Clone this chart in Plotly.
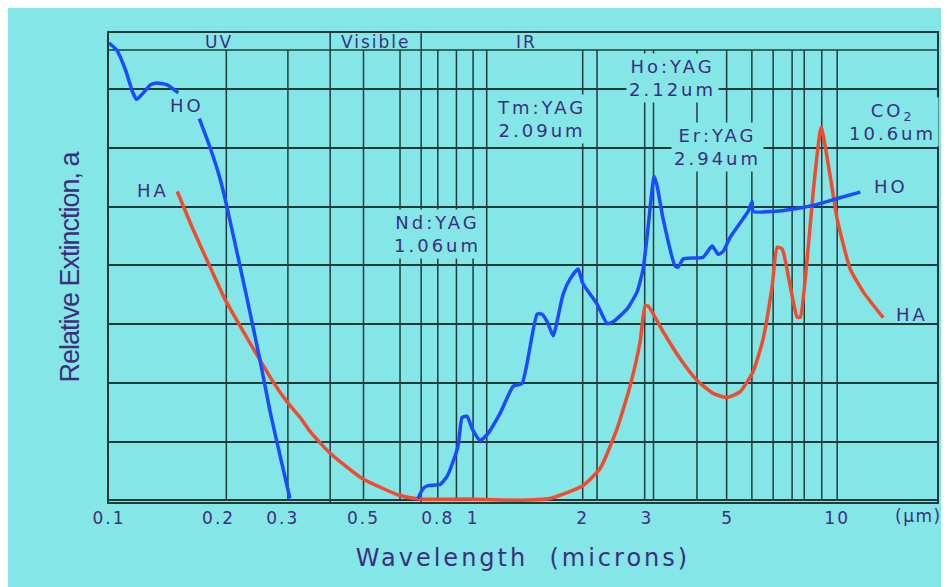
import math
import plotly.graph_objects as go

# ---------------- data ----------------
# HO curve (blue), three drawn pieces
HO_UV_WL = [0.100, 0.105, 0.111, 0.116, 0.119, 0.123, 0.130, 0.135, 0.144, 0.155]
HO_UV_A = [7.79, 7.67, 7.33, 6.96, 6.83, 6.91, 7.08, 7.11, 7.08, 6.94]

HO_UV2_WL = [0.177, 0.189, 0.202, 0.211, 0.229, 0.247, 0.260, 0.277, 0.295, 0.314]
HO_UV2_A = [6.50, 6.03, 5.47, 4.99, 3.99, 3.04, 2.38, 1.51, 0.76, 0.03]

HO_IR_WL = [0.706, 0.729, 0.752, 0.812, 0.849, 0.881, 0.910, 0.933, 0.963, 0.994,
            1.045, 1.093, 1.186, 1.288, 1.363, 1.499, 1.547, 1.607, 1.659, 1.767,
            1.847, 1.943, 1.993, 2.031, 2.191, 2.334, 2.424, 2.649, 2.821, 2.931,
            3.006, 3.144, 3.203, 3.327, 3.589, 3.658, 3.775, 4.283, 4.535, 4.711,
            4.862, 5.082, 5.693, 5.839, 5.876, 6.673, 7.765, 8.812, 10.0, 11.57]
HO_IR_A = [0.03, 0.20, 0.25, 0.27, 0.41, 0.66, 0.93, 1.41, 1.43, 1.22,
           1.02, 1.12, 1.48, 1.94, 1.99, 3.17, 3.17, 3.01, 2.80, 3.51,
           3.77, 3.94, 3.72, 3.63, 3.34, 3.01, 3.04, 3.26, 3.55, 3.94,
           4.50, 5.52, 5.35, 4.79, 3.99, 3.97, 4.11, 4.14, 4.33, 4.19,
           4.24, 4.48, 4.92, 5.09, 4.92, 4.92, 4.97, 5.04, 5.14, 5.25]

# HA curve (red)
HA_WL = [0.154, 0.170, 0.189, 0.208, 0.229, 0.257, 0.282, 0.308, 0.335, 0.357,
         0.405, 0.496, 0.630, 0.715, 0.963, 1.321, 1.627, 2.005, 2.233, 2.486,
         2.700, 2.876, 2.968, 3.025, 3.327, 3.705, 4.124, 4.564, 4.986, 5.413,
         5.876, 6.262, 6.630, 6.843, 7.063, 7.429, 7.765, 7.915, 8.272, 8.592,
         9.036, 9.568, 10.0, 10.86, 11.79, 13.38]
HA_A = [5.26, 4.62, 3.99, 3.43, 2.97, 2.44, 2.02, 1.68, 1.41, 1.17,
        0.80, 0.37, 0.08, 0.02, 0.02, 0.00, 0.03, 0.25, 0.54, 1.22,
        1.95, 2.70, 3.31, 3.31, 2.87, 2.41, 2.04, 1.82, 1.75, 1.85,
        2.19, 2.75, 3.65, 4.31, 4.28, 3.65, 3.12, 3.12, 4.11, 5.25,
        6.35, 5.52, 4.79, 3.94, 3.55, 3.11]

# grid / axis description
GRID_WL = [0.21, 0.31, 0.50, 0.63, 0.80, 0.90, 1.0, 1.09, 2.0, 2.19,
           2.96, 3.13, 4.12, 4.97, 5.83, 6.67, 7.52, 8.12, 9.07, 10.0]
BAND_EDGES = [0.405, 0.72]
BAND_NAMES = ['UV', 'Visible', 'IR']
BAND_LABEL_WL = [0.2, 0.54, 1.4]
X_MIN, X_MAX = 0.1, 18.8
Y_MIN, Y_GRID_TOP, Y_TOP = -0.03, 7.67, 7.96
TICK_VALS = [0.1, 0.2, 0.3, 0.5, 0.8, 1, 2, 3, 5, 10]
TICK_TEXT = ['0.1', '0.2', '0.3', '0.5', '0.8', '1', '2', '3', '5', '10']

# laser annotations
LASER_NAMES = ['Nd:YAG', 'Tm:YAG', 'Ho:YAG', 'Er:YAG', 'CO<sub>2</sub>']
LASER_LINES = ['1.06um', '2.09um', '2.12um', '2.94um', '10.6um']
LASER_LABEL_WL = [0.796, 1.537, 3.52, 4.68, 14.16]
LASER_LABEL_A = [4.53, 6.49, 7.20, 6.01, 6.45]

# curve name labels
CURVE_LABELS = ['HO', 'HA', 'HO', 'HA']
CURVE_LABEL_WL = [0.164, 0.132, 14.07, 16.07]
CURVE_LABEL_A = [6.72, 5.28, 5.35, 3.16]

# ---------------- style ----------------
BG = '#84e6e6'
GRID = '#1e3c3c'
TXT = '#3d2f7d'
BLUE = '#1c4bff'
RED = '#f04b2e'
FONT = 'DejaVu Sans, Verdana, sans-serif'


def ls(t, px):
    return f'<span style="letter-spacing:{px}px">{t}</span>'


fig = go.Figure()

# vertical grid lines (below the top band) + band boundaries + band line
gx, gy = [], []
for w in GRID_WL:
    gx += [w, w, None]
    gy += [0, Y_GRID_TOP, None]
for w in BAND_EDGES:
    gx += [w, w, None]
    gy += [Y_MIN, Y_TOP, None]
gx += [X_MIN, X_MAX]
gy += [Y_GRID_TOP, Y_GRID_TOP]
fig.add_trace(go.Scatter(x=gx, y=gy, mode='lines', line=dict(color=GRID, width=1.5),
                         hoverinfo='skip', showlegend=False))

LINE_KW = dict(shape='spline', smoothing=0.5, width=3.5)
fig.add_trace(go.Scatter(x=HA_WL, y=HA_A, mode='lines', name='HA',
                         line=dict(color=RED, **LINE_KW), showlegend=False))
for wl, a in [(HO_UV_WL, HO_UV_A), (HO_UV2_WL, HO_UV2_A), (HO_IR_WL, HO_IR_A)]:
    fig.add_trace(go.Scatter(x=wl, y=a, mode='lines', name='HO',
                             line=dict(color=BLUE, **LINE_KW), showlegend=False))

ann = []
for name, w in zip(BAND_NAMES, BAND_LABEL_WL):
    ann.append(dict(x=math.log10(w), y=(Y_GRID_TOP + Y_TOP) / 2, xref='x', yref='y',
                    text=ls(name, 2), showarrow=False,
                    font=dict(family=FONT, size=17, color=TXT)))
for n, l, w, a in zip(LASER_NAMES, LASER_LINES, LASER_LABEL_WL, LASER_LABEL_A):
    ann.append(dict(x=math.log10(w), y=a, xref='x', yref='y',
                    text=ls(n, 3) + '<br>' + ls(l, 3), showarrow=False,
                    bgcolor=BG, borderpad=2,
                    font=dict(family=FONT, size=18, color=TXT)))
for n, w, a in zip(CURVE_LABELS, CURVE_LABEL_WL, CURVE_LABEL_A):
    ann.append(dict(x=math.log10(w), y=a, xref='x', yref='y', text=ls(n, 3),
                    showarrow=False, font=dict(family=FONT, size=18, color=TXT)))
ann.append(dict(x=math.log10(16.7), y=0, xref='x', yref='y', yanchor='top', yshift=-4,
                text=ls('(\u00b5m)', 1.5), showarrow=False,
                font=dict(family=FONT, size=17, color=TXT)))

# the page body adds an 8px offset; margins below account for it
fig.update_layout(
    width=949, height=587,
    margin=dict(l=101, r=20, t=25, b=93),
    paper_bgcolor=BG, plot_bgcolor=BG,
    annotations=ann,
    xaxis=dict(type='log', range=[math.log10(X_MIN), math.log10(X_MAX)],
               tickvals=TICK_VALS, ticktext=[ls(t, 2) for t in TICK_TEXT],
               ticks='', showgrid=False, zeroline=False,
               showline=True, mirror=True, linecolor=GRID, linewidth=1.5,
               layer='below traces',
               tickfont=dict(family=FONT, size=17, color=TXT),
               title=dict(text=ls('Wavelength&nbsp;&nbsp;(microns)', 3), standoff=22,
                          font=dict(family=FONT, size=24, color=TXT))),
    yaxis=dict(range=[Y_MIN, Y_TOP], dtick=1, tick0=0, showticklabels=False, ticks='',
               showgrid=True, gridcolor=GRID, gridwidth=1.5, zeroline=False,
               showline=True, mirror=True, linecolor=GRID, linewidth=1.5,
               layer='below traces',
               title=dict(text=ls('Relative Extinction, a', -1), standoff=20,
                          font=dict(family='Liberation Sans, Arial', size=27, color=TXT))),
)

fig.write_html('out.html')
